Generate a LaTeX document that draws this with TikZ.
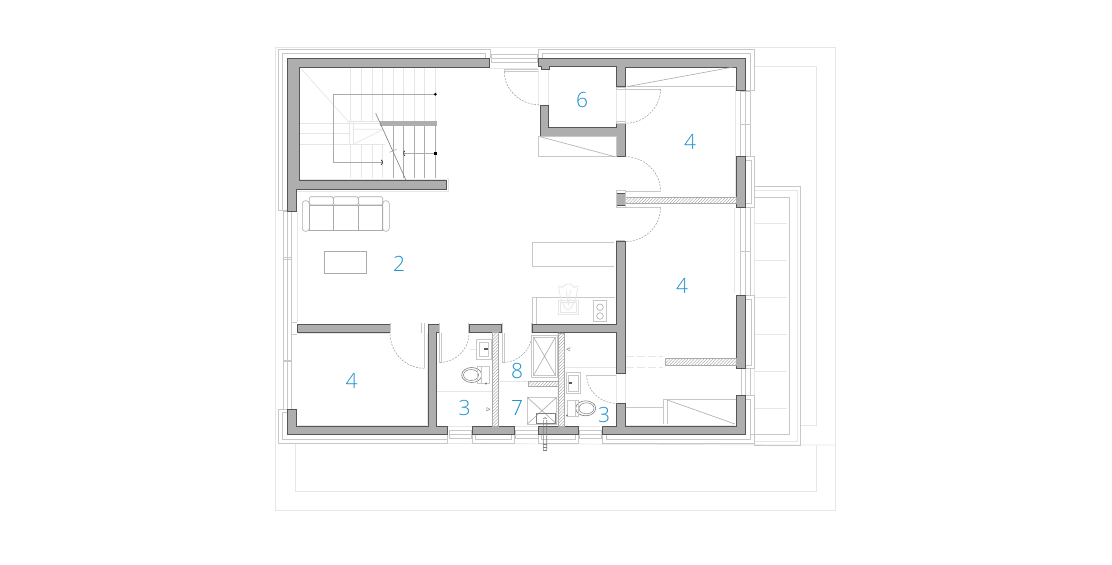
\documentclass[tikz,border=0pt]{standalone}
\usepackage{fontspec}
\setmainfont{Liberation Sans}
\newfontfamily\lblfont{Open Sans Light}
\usetikzlibrary{calc,patterns.meta}
\definecolor{wallc}{HTML}{AEAEAE}
\definecolor{wline}{HTML}{555555}
\definecolor{mid}{HTML}{ABABAB}
\definecolor{lite}{HTML}{E6E6E6}
\definecolor{soft}{HTML}{C8C8C8}
\definecolor{lab}{HTML}{1C92CC}
\tikzset{
  wall/.style={fill=wallc,draw=wline,line width=.55pt},
  hatchw/.style={draw=mid,line width=.4pt,pattern={Lines[angle=45,distance=2.2pt,line width=.35pt]},pattern color=gray!80},
  midl/.style={draw=mid,line width=.6pt},
  softl/.style={draw=soft,line width=.6pt},
  litel/.style={draw=lite,line width=.7pt},
  darc/.style={draw=gray!85,line width=.45pt,dash pattern=on 2pt off 1.2pt},
  leaf/.style={draw=soft,line width=1pt},
  roomlabel/.style={text=lab,font=\lblfont\fontsize{21}{21}\selectfont,inner sep=0pt,anchor=center},
  dotm/.style={fill=black,draw=none}
}
\newcommand{\doorarc}[6]{%
  \draw[darc] (#1,#2) .. controls ($(#1,#2)+0.5523*(#3,#4)-0.5523*(#5,#6)$) and ($(#3,#4)+0.5523*(#1,#2)-0.5523*(#5,#6)$) .. (#3,#4);}
\begin{document}
\begin{tikzpicture}[x=1pt,y=-1pt]
\useasboundingbox (0,0) rectangle (1112,565);
\fill[white] (0,0) rectangle (1112,565);

% --- site / terrace outlines
\draw[litel] (275.5,47.5) rectangle (835.5,510.5);
\draw[litel] (754.5,66.7) -- (816.7,66.7) -- (816.7,425) -- (800.3,425);
\draw[litel] (295.7,443.5) -- (295.7,491.5) -- (816.7,491.5) -- (816.7,445);
\draw[litel] (447.7,443.5) -- (800,445) -- (835.5,445);
\draw[softl] (754.5,186.7) -- (800.3,186.7) -- (800.3,445) -- (754.5,445) -- (754.5,443.3);
\draw[draw=lite,line width=1.2pt] (754.5,190.7) -- (797.5,190.7) -- (797.5,441.5) -- (754.5,441.5);
\draw[softl] (754.5,197.3) -- (789.3,197.3) -- (789.3,434.3) -- (751,434.3);
\foreach \yy in {223.3,260.7,297.7,334.7,371.7,408.3}
  \draw[litel] (754.5,\yy) -- (786.7,\yy);
\draw[litel] (754.5,207) -- (754.5,295) (754.5,368) -- (754.5,395);

% --- outer frame lines
\draw[softl] (287,210.7) -- (278.3,210.7) -- (278.3,49.5) -- (490,49.5) -- (490,58);
\draw[softl] (282,210.7) -- (282,53.5) -- (485.7,53.5) -- (485.7,58);
\draw[softl] (538.3,58) -- (538.3,49.5) -- (754,49.5) -- (754,90.7) -- (745,90.7);
\draw[softl] (542.7,58) -- (542.7,53.5) -- (750,53.5) -- (750,90.7);
\draw[softl] (745,156.5) rectangle (754.5,207.3);
\draw[softl] (745,160) rectangle (751,203.5);
\draw[softl] (745,295) rectangle (754.5,368.3);
\draw[softl] (745,299) rectangle (751,365);
\draw[softl] (745,395.5) -- (754.5,395.5) -- (754.5,443.3) -- (602.7,443.3) -- (602.7,434.5);
\draw[softl] (745,399.3) -- (750.7,399.3) -- (750.7,439.3) -- (606.7,439.3) -- (606.7,434.5);
\draw[softl] (287,409) -- (278.3,409) -- (278.3,443.3) -- (447.7,443.3) -- (447.7,434.7);
\draw[softl] (287,412.5) -- (282,412.5) -- (282,439.3) -- (447.7,439.3);

% --- windows
\draw[softl] (491,54.3) rectangle (537.3,62.3);
\draw[softl] (491,58.3) -- (537.3,58.3);
\draw[litel] (489.5,68) -- (538,68);
\draw[softl] (283.3,211) rectangle (291.4,409);
\draw[softl] (287.4,211) -- (287.4,409);
\draw[softl] (283.3,257.5) -- (291.4,257.5) (283.3,259) -- (291.4,259) (283.3,360) -- (291.4,360) (283.3,361.5) -- (291.4,361.5);
\draw[softl] (291.4,322.3) -- (297,322.3) (291.4,334) -- (297,334);
\draw[softl] (740.7,91) rectangle (750,156.5);
\draw[softl] (745,91) -- (745,156.5);
\draw[softl] (740.7,124.3) -- (750,124.3);
\draw[softl] (740.7,207.5) rectangle (750,295);
\draw[softl] (745,207.5) -- (745,295);
\draw[softl] (740.7,251) -- (750,251);
\draw[softl] (741,368.5) rectangle (750,395);
\draw[softl] (745.5,368.5) -- (745.5,395);
\draw[softl] (449,430.7) rectangle (471.7,438.3);
\draw[softl] (449,434.7) -- (471.7,434.7);
\draw[softl] (515,430.7) rectangle (538.3,438.3);
\draw[softl] (515,434.7) -- (538.3,434.7);
\draw[softl] (579.3,430.7) rectangle (601.7,438.3);
\draw[softl] (579.3,434.7) -- (601.7,434.7);
\draw[softl] (472.3,434.7) rectangle (514.3,443.3);
\draw[softl] (538.3,434.3) rectangle (578.3,443.3);
\draw[softl] (475.7,434.7) -- (475.7,439.3) -- (511,439.3) -- (511,434.7);
\draw[softl] (541.7,434.3) -- (541.7,439.3) -- (575,439.3) -- (575,434.3);

% --- light interior lines
\draw[litel] (297,211) -- (297,322);
\draw[litel] (446.7,178.5) -- (448.7,178.5) -- (448.7,191) -- (297,191);
\draw[litel] (298,67.5) -- (489,67.5);
\draw[litel] (298,179) -- (446,179);
\draw[litel] (298,333.5) -- (390,333.5);
\draw[litel] (298,425) -- (427,425) (427.5,334) -- (427.5,425);
\draw[litel] (735,87) -- (735,196);
\draw[litel] (734.3,208) -- (734.3,293);
\draw[litel] (626,425) -- (735,425);
\draw[litel] (538.3,70) -- (538.3,105) (548.6,70) -- (548.6,105) (616.5,87) -- (616.5,123) (625,87) -- (625,123);
\draw[litel] (616.5,373.5) rectangle (625,403);
\draw[litel] (436.7,391.7) -- (491.7,391.7);
\draw[litel] (500,381) -- (528,381);
\draw[litel] (565,367.3) -- (616.7,367.3);
\draw[litel] (437,426) -- (600,426);
\draw[litel] (476,349) -- (470,349);

% --- staircase
\foreach \xx in {350.3,361.3,372,382.7,393.3,403.7,414.3,424.7,435.3}
  \draw[litel] (\xx,68) -- (\xx,121);
\foreach \xx in {350.3,361.3,372,382.7}
  \draw[litel] (\xx,144.3) -- (\xx,178);
\foreach \xx in {393.3,403.7,414.3,424.7,435.3}
  \draw[draw=mid,line width=.5pt] (\xx,126) -- (\xx,178);
\draw[litel] (300,123) -- (349.3,123) (300,133.7) -- (349.3,133.7) (300,144.3) -- (385,144.3);
\draw[litel] (301.7,69.3) -- (349.3,122.7);
\draw[litel] (349.3,121) rectangle (353.3,144.3);
\draw[litel] (353.3,129.3) -- (383.3,129.3) (353.3,144.3) -- (383.3,129.3);
\draw[litel] (349.3,121) rectangle (380,123.3);
\fill[wallc] (380,121) rectangle (436.5,126);
\draw[draw=mid,line width=.6pt] (381.7,162.3) -- (333.3,162.3) -- (333.3,94.3) -- (435.3,94.3);
\draw[draw=mid,line width=.6pt] (404.3,153.3) -- (435.3,153.3);
\fill[dotm] (435.3,94.3) circle[radius=1.5];
\fill[dotm] (433.8,151.8) rectangle (436.8,154.8);
\draw[black,line width=.6pt] (381,159.8) -- (382.2,161) -- (382.2,163.6) -- (381,164.8);
\draw[black,line width=.6pt] (405,150.8) -- (403.8,152) -- (403.8,154.6) -- (405,155.8);
\draw[draw=gray,line width=.6pt] (375.7,113.3) -- (410,189);
\draw[draw=gray!70,line width=.5pt] (389.3,152.3) -- (396.7,149.3);

% --- walls
\draw[wall] (287,58) -- (489.5,58) -- (489.5,67) -- (299,67) -- (299,180.5) -- (446.5,180.5) -- (446.5,189.5) -- (296,189.5) -- (296,211) -- (287,211) -- cycle;
\draw[wall] (538.5,58.5) -- (745,58.5) -- (745,90.5) -- (736.5,90.5) -- (736.5,67) -- (625,67) -- (625,86.5) -- (616.5,86.5) -- (616.5,66.7) -- (549,66.7) -- (549,69.3) -- (541.7,69.3) -- (541.7,66.7) -- (538.5,66.7) -- cycle;
\draw[wall] (540.5,105) -- (548.3,105) -- (548.3,127.3) -- (616.7,127.3) -- (616.7,123.3) -- (625,123.3) -- (625,156.7) -- (616.7,156.7) -- (616.7,136) -- (540.5,136) -- cycle;
\draw[wall] (736.5,156.5) rectangle (745,207.3);
\draw[wall] (616.3,193.3) rectangle (625,205.7);
\draw[wall] (736.3,295) rectangle (745,368.3);
\draw[wall] (297,324.3) rectangle (390,332.4);
\draw[wall] (469,324.3) rectangle (501.7,332.4);
\draw[wall] (287,409) -- (296,409) -- (296,426) -- (428,426) -- (428,324.3) -- (439,324.3) -- (439,332.4) -- (436.7,332.4) -- (436.7,426) -- (447.7,426) -- (447.7,434.7) -- (287,434.7) -- cycle;
\draw[wall] (616.7,241.7) -- (625,241.7) -- (625,373.3) -- (616.7,373.3) -- (616.7,332.7) -- (532.3,332.7) -- (532.3,324.3) -- (616.7,324.3) -- cycle;
\draw[wall] (472.3,426) rectangle (514,434.7);
\draw[wall] (538.3,426.5) rectangle (578.3,434.4);
\draw[wall] (602.7,426.3) -- (616.7,426.3) -- (616.7,403.3) -- (625,403.3) -- (625,426) -- (736.7,426) -- (736.7,395.5) -- (745,395.5) -- (745,434.5) -- (602.7,434.5) -- cycle;

% --- hatched walls
\draw[hatchw] (625,197) rectangle (736.5,203.5);
\draw[hatchw] (492.3,332.4) rectangle (498.5,426);
\draw[hatchw] (557.7,332.7) rectangle (564.3,426.3);
\draw[hatchw] (528.3,381) rectangle (557.7,385.7);
\draw[hatchw] (665.3,358.3) rectangle (736.3,364.7);
\draw[draw=lite,line width=.7pt,dash pattern=on 8pt off 3pt] (626,356.7) -- (663,356.7) (626,367.3) -- (663,367.3);

% --- door openings, leaves and swings
\draw[softl] (504.3,71.7) -- (504.3,69.3) -- (538,69.3);
\draw[softl] (504.3,71.7) -- (538,71.7);
\doorarc{504.3}{71.7}{540.5}{105}{540.5}{71.7}
\draw[leaf] (625,89) -- (660.5,89);
\doorarc{660.5}{89}{625}{123.3}{625}{89}
\doorarc{625}{156.7}{660.5}{191}{625}{191}
\draw[leaf] (626,191) -- (660.5,191);
\draw[leaf] (626,207.7) -- (660.5,207.7);
\doorarc{660.5}{207.7}{625}{241.7}{625}{207.7}
\draw[softl] (616,190.5) rectangle (625,207.5);
\draw[softl] (616,240) -- (625,240);
\draw[softl] (616,87) rectangle (625,89.5) (616,121) rectangle (625,123.3);
\draw[softl] (424.3,322.7) -- (424.3,368.3);
\draw[softl] (421.5,322.7) -- (421.5,333);
\doorarc{424.3}{368.3}{390}{333}{424.3}{333}
\draw[softl] (390,322.7) -- (390,333);
\draw[softl] (439.3,322.5) -- (439.3,362.3) -- (441,362.3) -- (441,332.5);
\doorarc{440}{362.3}{469}{333}{440}{333}
\draw[softl] (468,322.7) -- (468,333);
\draw[softl] (502.7,322.5) -- (502.7,362.3) -- (504.5,362.3) -- (504.5,332.5);
\doorarc{503.5}{362.3}{532}{333}{503.5}{333}
\draw[softl] (531.5,322.7) -- (531.5,333);
\draw[leaf] (586.7,375) -- (616,375);
\doorarc{586.7}{375}{616.7}{403.3}{616.7}{375}

% --- closets
\draw[softl] (538.3,136.7) rectangle (616.7,156.7);
\draw[draw=mid,line width=.6pt] (540,136.7) -- (615,156.7);
\draw[softl] (626.7,86.7) -- (735,86.7);
\draw[draw=mid,line width=.6pt] (626.7,86.7) -- (735,66.7);
\draw[softl] (663.3,424) -- (663.3,399.3) -- (736,399.3);
\draw[softl] (667.3,424) -- (667.3,400);
\draw[draw=mid,line width=.6pt] (667.3,400) -- (735,424);
\draw[softl] (626,407.3) -- (663.3,407.3);

% --- sofa and table
\draw[midl,rounded corners=1.5pt] (309.3,196.7) rectangle (333.3,205);
\draw[midl,rounded corners=1.5pt] (333.3,196.7) rectangle (358.3,205);
\draw[midl,rounded corners=1.5pt] (358.3,196.7) rectangle (382.7,205);
\draw[midl] (309.3,205) rectangle (333.3,230.7);
\draw[midl] (333.3,205) rectangle (358.3,230.7);
\draw[midl] (358.3,205) rectangle (382.7,230.7);
\draw[midl,rounded corners=3pt] (302.3,200.7) rectangle (309.3,231.3);
\draw[midl,rounded corners=3pt] (382.7,200.7) rectangle (389.3,231.3);
\draw[midl] (324.3,251) rectangle (366.3,273);

% --- kitchen
\draw[softl] (532.3,242.3) -- (614.3,242.3) (532.3,242.3) -- (532.3,266.7) -- (614.3,266.7);
\draw[softl] (532.3,324.3) -- (532.3,297.3) -- (615,297.3);
\draw[softl] (536.3,297.3) -- (536.3,324.3);
\draw[litel] (558.3,300.2) rectangle (578.3,314);
\draw[litel] (560.5,302) rectangle (576,312);
\draw[litel,rounded corners=2pt] (558.3,285) -- (562,288) -- (564,285) -- (568.3,283.3) -- (572.5,285) -- (574.5,288) -- (578.3,285) -- (576,298) -- (570,310) -- (566,310) -- (560.5,298) -- cycle;
\draw[litel] (566,290) -- (568.3,305) -- (570.5,290);
\draw[softl] (593.3,300.7) rectangle (606.7,321.7);
\draw[midl] (600,307.3) circle[radius=3.3];
\draw[midl] (600,316) circle[radius=3.3];

% --- bathroom fixtures
\draw[softl] (476,339) rectangle (491.7,359);
\draw[softl] (479,342) rectangle (488.7,356);
\fill[black!65] (484,348.2) rectangle (487.6,350.2);
\draw[gray,line width=.6pt] (471.7,375) ellipse[x radius=10,y radius=7.5];
\draw[gray,line width=.5pt] (471,375) ellipse[x radius=7.5,y radius=5.5];
\draw[softl] (477.3,366.7) rectangle (481.5,383);
\draw[softl] (481.5,366.5) rectangle (489.3,383);
\fill[gray] (486,383.5) circle[radius=1.1];
\draw[softl] (566,372.3) rectangle (580.7,393.7);
\draw[softl] (568.5,375) rectangle (578.2,391);
\fill[black!65] (568.5,381.7) rectangle (572.4,383.7);
\draw[gray,line width=.6pt] (585.7,408.3) ellipse[x radius=10,y radius=7.5];
\draw[gray,line width=.5pt] (586.5,408.3) ellipse[x radius=7.5,y radius=5.5];
\draw[softl] (567.3,400) rectangle (575,416.5);
\draw[softl] (575,400) rectangle (578,416.5);
\fill[gray] (567,415.5) circle[radius=1.1];
% showers
\draw[softl] (531.7,335.3) rectangle (557.3,377.3);
\draw[softl] (533.5,337) rectangle (555.5,375.5);
\draw[midl] (533.5,337) -- (555.5,375.5) (555.5,337) -- (533.5,375.5);
\draw[softl] (527.3,397.3) rectangle (556.7,424);
\draw[midl] (527.3,397.3) -- (556.7,424) (556.7,397.3) -- (527.3,424);
\draw[draw=gray,line width=.6pt] (536.7,413.3) rectangle (555,423.5);
\draw[draw=gray,line width=.6pt] (543.3,420) -- (543.3,450) (546.7,420) -- (546.7,450) (543.3,419) -- (545,417.5) -- (546.7,419);
\draw[draw=gray,line width=.6pt] (543.3,444) -- (546.7,444) (543.3,447) -- (546.7,447) (543.3,450) -- (546.7,450);
% drain marks
\draw[draw=gray,line width=.4pt] (486.7,407.5) -- (490,409.3) -- (486.7,411) -- cycle;
\draw[draw=gray,line width=.4pt] (570,347.5) -- (566.7,349.3) -- (570,351) -- cycle;

% --- room labels
\node[roomlabel] (r6) at (582,99.5) {6};
\node[roomlabel] (r4a) at (690,141.5) {4};
\node[roomlabel] (r4b) at (682,285.5) {4};
\node[roomlabel] (r2) at (399,263.5) {2};
\node[roomlabel] (r4c) at (351.5,380.5) {4};
\node[roomlabel] (r8) at (517,370.5) {8};
\node[roomlabel] (r3a) at (464.5,407.5) {3};
\node[roomlabel] (r7) at (517,407.5) {7};
\node[roomlabel] (r3b) at (604,414.5) {3};
\end{tikzpicture}
\end{document}
